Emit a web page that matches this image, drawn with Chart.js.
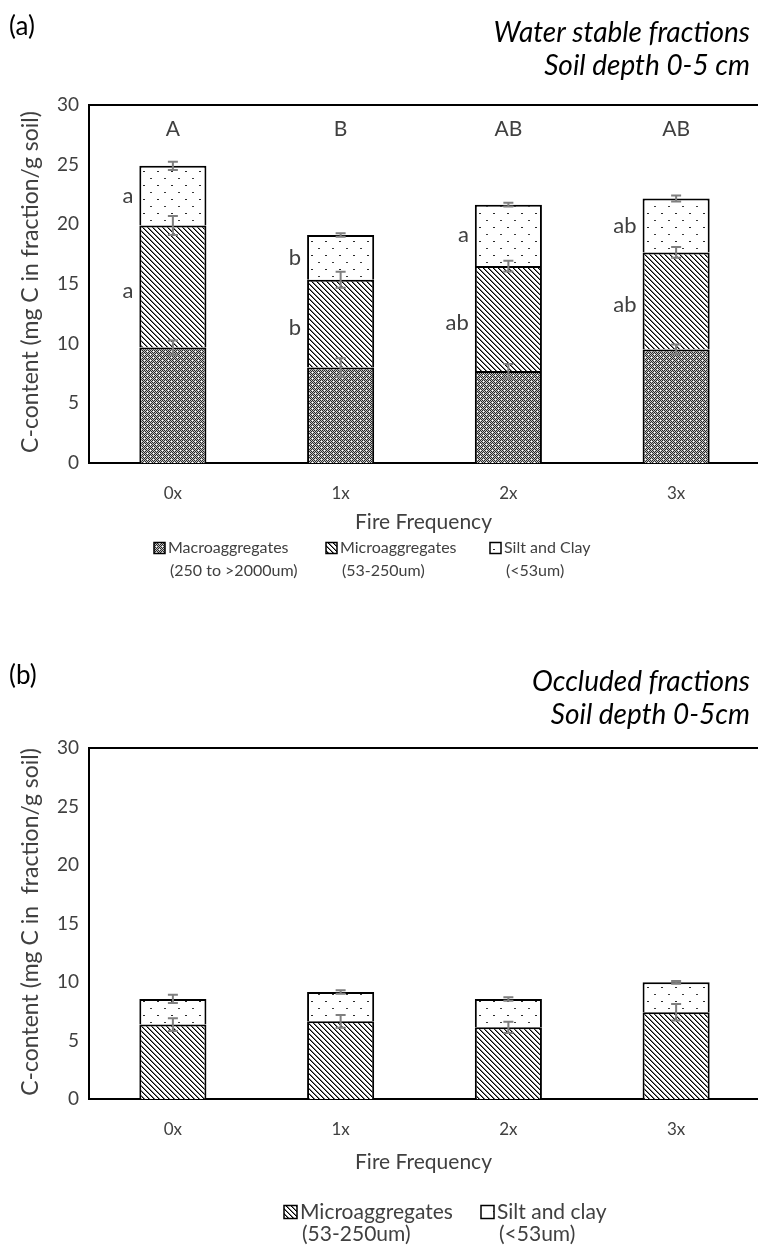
<!DOCTYPE html>
<html>
<head>
<meta charset="utf-8">
<script src="https://cdn.jsdelivr.net/npm/chart.js@4.4.0/dist/chart.umd.min.js"></script>
<style>
  html, body { margin: 0; padding: 0; background: #fff; width: 758px; height: 1249px; overflow: hidden; }
  canvas { position: absolute; left: 0; }
  #chartA { top: 0; }
  #chartB { top: 620px; }
</style>
</head>
<body>
<canvas id="chartA" width="760" height="620"></canvas>
<canvas id="chartB" width="760" height="629"></canvas>
<script>
// Fire frequency treatments
const categories = ['0x', '1x', '2x', '3x'];
const yTicks = [0, 5, 10, 15, 20, 25, 30];

// (a) Water stable fractions, 0-5 cm: C content per size fraction
const macroA = [9.67, 8.0, 7.7, 9.52];
const microA = [10.23, 7.35, 8.8, 8.13];
const siltA = [5.0, 3.75, 5.15, 4.52];
const macroErrA = [0.6, 0.77, 0.6, 0.4];
const microErrA = [0.8, 0.67, 0.45, 0.45];
const siltErrA = [0.35, 0.15, 0.15, 0.25];
const totalLettersA = ['A', 'B', 'AB', 'AB'];
const microLettersA = ['a', 'b', 'ab', 'ab'];
const siltLettersA = ['a', 'b', 'a', 'ab'];

// (b) Occluded fractions, 0-5 cm
const microB = [6.36, 6.64, 6.13, 7.41];
const siltB = [2.19, 2.51, 2.42, 2.56];
const microErrB = [0.54, 0.54, 0.48, 0.7];
const siltErrB = [0.35, 0.15, 0.15, 0.12];

// Legend texts
const legendA = [
  ['Macroaggregates', '(250 to >2000um)'],
  ['Microaggregates', '(53-250um)'],
  ['Silt and Clay', '(<53um)']
];
const legendB = [
  ['Microaggregates', '(53-250um)'],
  ['Silt and clay', '(<53um)']
];

const FONT = 'Lato, "Open Sans", sans-serif';
const TEXT = '#404040';

// ---- fill patterns -------------------------------------------------------
function tile(w, h, paint) {
  const c = document.createElement('canvas');
  c.width = w; c.height = h;
  const g = c.getContext('2d');
  const img = g.createImageData(w, h);
  for (let y = 0; y < h; y++) {
    for (let x = 0; x < w; x++) {
      const v = paint(x, y);
      const k = (y * w + x) * 4;
      img.data[k] = img.data[k + 1] = img.data[k + 2] = v;
      img.data[k + 3] = 255;
    }
  }
  g.putImageData(img, 0, 0);
  return c;
}
// dark dotted grid
const macroTile = tile(6, 6, (x, y) => {
  if ((x === 3 && y === 3) || (x === 0 && y === 0)) return 255;
  return (x + y) % 2 === 0 ? 40 : 195;
});
// wide downward diagonal
const microTile = tile(5, 5, (x, y) => {
  if (x === y) return 0;
  if (x === (y + 1) % 5) return 120;
  return 255;
});
// sparse dots
const siltTile = tile(14, 14, (x, y) => {
  if ((x === 3 || x === 4) && y === 3) return 40;
  if ((x === 10 || x === 11) && y === 10) return 60;
  return 255;
});

function patterns(ctx) {
  return {
    macro: ctx.createPattern(macroTile, 'repeat'),
    micro: ctx.createPattern(microTile, 'repeat'),
    silt: ctx.createPattern(siltTile, 'repeat')
  };
}

// ---- drawing helpers -----------------------------------------------------
function cumulative(series) {
  const out = [];
  let run = categories.map(() => 0);
  series.forEach(s => {
    run = run.map((v, i) => v + s[i]);
    out.push(run.slice());
  });
  return out;
}

function drawErrorBars(chart, series, errs) {
  const ctx = chart.ctx;
  const y = chart.scales.y;
  const tops = cumulative(series);
  const meta = chart.getDatasetMeta(0);
  ctx.save();
  ctx.strokeStyle = '#7f7f7f';
  ctx.lineWidth = 2;
  tops.forEach((row, s) => {
    row.forEach((v, i) => {
      const x = meta.data[i].x;
      const y1 = y.getPixelForValue(v + errs[s][i]);
      const y0 = y.getPixelForValue(v - errs[s][i]);
      ctx.beginPath();
      ctx.moveTo(x, y0); ctx.lineTo(x, y1);
      ctx.moveTo(x - 5, y0); ctx.lineTo(x + 5, y0);
      ctx.moveTo(x - 5, y1); ctx.lineTo(x + 5, y1);
      ctx.stroke();
    });
  });
  ctx.restore();
}

function drawSwatch(ctx, x, yc, pat, size) {
  ctx.save();
  ctx.fillStyle = pat;
  ctx.fillRect(x, yc - size / 2, size, size);
  ctx.strokeStyle = '#000';
  ctx.lineWidth = 1.5;
  ctx.strokeRect(x, yc - size / 2, size, size);
  ctx.restore();
}

function drawLegend(ctx, items, xs, pats, y1, y2, fontSize, size) {
  ctx.save();
  ctx.font = fontSize + 'px ' + FONT;
  ctx.fillStyle = TEXT;
  ctx.textBaseline = 'middle';
  ctx.textAlign = 'left';
  items.forEach((lines, i) => {
    drawSwatch(ctx, xs[i], y1, pats[i], size);
    ctx.fillText(lines[0], xs[i] + size + 3, y1);
    ctx.fillText(lines[1], xs[i] + size + 5, y2);
  });
  ctx.restore();
}

function drawFrame(chart) {
  const ctx = chart.ctx, a = chart.chartArea;
  ctx.save();
  ctx.strokeStyle = '#000';
  ctx.lineWidth = 2;
  ctx.beginPath();
  ctx.moveTo(a.left - 1, a.top);
  ctx.lineTo(a.right, a.top);
  ctx.stroke();
  ctx.restore();
}

function drawHeader(chart, tag, line1, line2, yTag, yL1, yL2) {
  const ctx = chart.ctx;
  ctx.save();
  ctx.fillStyle = '#000';
  ctx.textBaseline = 'middle';
  ctx.font = '26px ' + FONT;
  ctx.textAlign = 'left';
  ctx.fillText(tag, 9, yTag);
  ctx.font = 'italic 28px ' + FONT;
  ctx.textAlign = 'right';
  ctx.fillText(line1, 750, yL1);
  ctx.fillText(line2, 750, yL2);
  ctx.restore();
}

function drawAxisTitles(chart, yTitle, yTitleY, xTitleY) {
  const ctx = chart.ctx, a = chart.chartArea;
  ctx.save();
  ctx.fillStyle = TEXT;
  ctx.font = '21px ' + FONT;
  ctx.textAlign = 'center';
  ctx.textBaseline = 'middle';
  ctx.fillText('Fire Frequency', (a.left + 758) / 2, xTitleY);
  ctx.font = '23px ' + FONT;
  ctx.translate(31, yTitleY);
  ctx.rotate(-Math.PI / 2);
  ctx.fillText(yTitle, 0, 0);
  ctx.restore();
}

function baseOptions(top, bottom) {
  return {
    responsive: false,
    animation: false,
    events: [],
    layout: { padding: { left: 0, right: 0, top: top, bottom: bottom } },
    plugins: { legend: { display: false }, tooltip: { enabled: false } },
    scales: {
      x: {
        stacked: true,
        grid: { display: false, drawTicks: false },
        border: { display: true, color: '#000', width: 2 },
        ticks: { color: TEXT, font: { family: FONT, size: 17 }, padding: 20 },
        afterFit: s => { s.height = 45; }
      },
      y: {
        stacked: true,
        min: 0, max: 30,
        grid: { display: false, drawTicks: false },
        border: { display: true, color: '#000', width: 2 },
        ticks: { color: TEXT, font: { family: FONT, size: 19 }, padding: 10 },
        afterBuildTicks: s => { s.ticks = yTicks.map(v => ({ value: v })); },
        afterFit: s => { s.width = 89; }
      }
    }
  };
}

function barSet(label, data, fill) {
  return {
    label: label, data: data, backgroundColor: fill,
    borderColor: '#000', borderWidth: 2, borderSkipped: 'start',
    barPercentage: 0.4, categoryPercentage: 1.0
  };
}

// ---- panel (a) -----------------------------------------------------------
const ctxA = document.getElementById('chartA').getContext('2d');
const patA = patterns(ctxA);
new Chart(ctxA, {
  type: 'bar',
  data: {
    labels: categories,
    datasets: [
      barSet(legendA[0][0], macroA, patA.macro),
      barSet(legendA[1][0], microA, patA.micro),
      barSet(legendA[2][0], siltA, patA.silt)
    ]
  },
  options: baseOptions(105, 112),
  plugins: [{
    id: 'panelA',
    afterDatasetsDraw(chart) {
      drawErrorBars(chart, [macroA, microA, siltA], [macroErrA, microErrA, siltErrA]);
      const ctx = chart.ctx, y = chart.scales.y, meta = chart.getDatasetMeta(0);
      const tops = cumulative([macroA, microA, siltA]);
      ctx.save();
      ctx.fillStyle = TEXT;
      ctx.textBaseline = 'middle';
      categories.forEach((c, i) => {
        const bar = meta.data[i];
        ctx.font = '21px ' + FONT;
        ctx.textAlign = 'center';
        ctx.fillText(totalLettersA[i], bar.x, chart.chartArea.top + 24);
        ctx.font = '22px ' + FONT;
        ctx.textAlign = 'right';
        const left = bar.x - bar.width / 2 - 6;
        ctx.fillText(siltLettersA[i], left, y.getPixelForValue((tops[1][i] + tops[2][i]) / 2));
        ctx.fillText(microLettersA[i], left, y.getPixelForValue((tops[0][i] + tops[1][i]) / 2) + 4);
      });
      ctx.restore();
    },
    afterDraw(chart) {
      drawFrame(chart);
      drawHeader(chart, '(a)', 'Water stable fractions', 'Soil depth 0-5 cm', 27, 33, 66);
      drawAxisTitles(chart, 'C-content (mg C in fraction/g soil)', 282, 522);
      drawLegend(chart.ctx, legendA, [154, 326, 490], [patA.macro, patA.micro, patA.silt], 548, 571, 16, 11);
    }
  }]
});

// ---- panel (b) -----------------------------------------------------------
const ctxB = document.getElementById('chartB').getContext('2d');
const patB = patterns(ctxB);
new Chart(ctxB, {
  type: 'bar',
  data: {
    labels: categories,
    datasets: [
      barSet(legendB[0][0], microB, patB.micro),
      barSet(legendB[1][0], siltB, patB.silt)
    ]
  },
  options: baseOptions(128, 105),
  plugins: [{
    id: 'panelB',
    afterDatasetsDraw(chart) {
      drawErrorBars(chart, [microB, siltB], [microErrB, siltErrB]);
    },
    afterDraw(chart) {
      drawFrame(chart);
      drawHeader(chart, '(b)', 'Occluded fractions', 'Soil depth 0-5cm', 56, 62, 95);
      drawAxisTitles(chart, 'C-content (mg C in  fraction/g soil)', 302, 542);
      drawLegend(chart.ctx, legendB, [284, 481], [patB.micro, patB.silt], 592, 614, 21, 13);
    }
  }]
});
</script>
</body>
</html>
